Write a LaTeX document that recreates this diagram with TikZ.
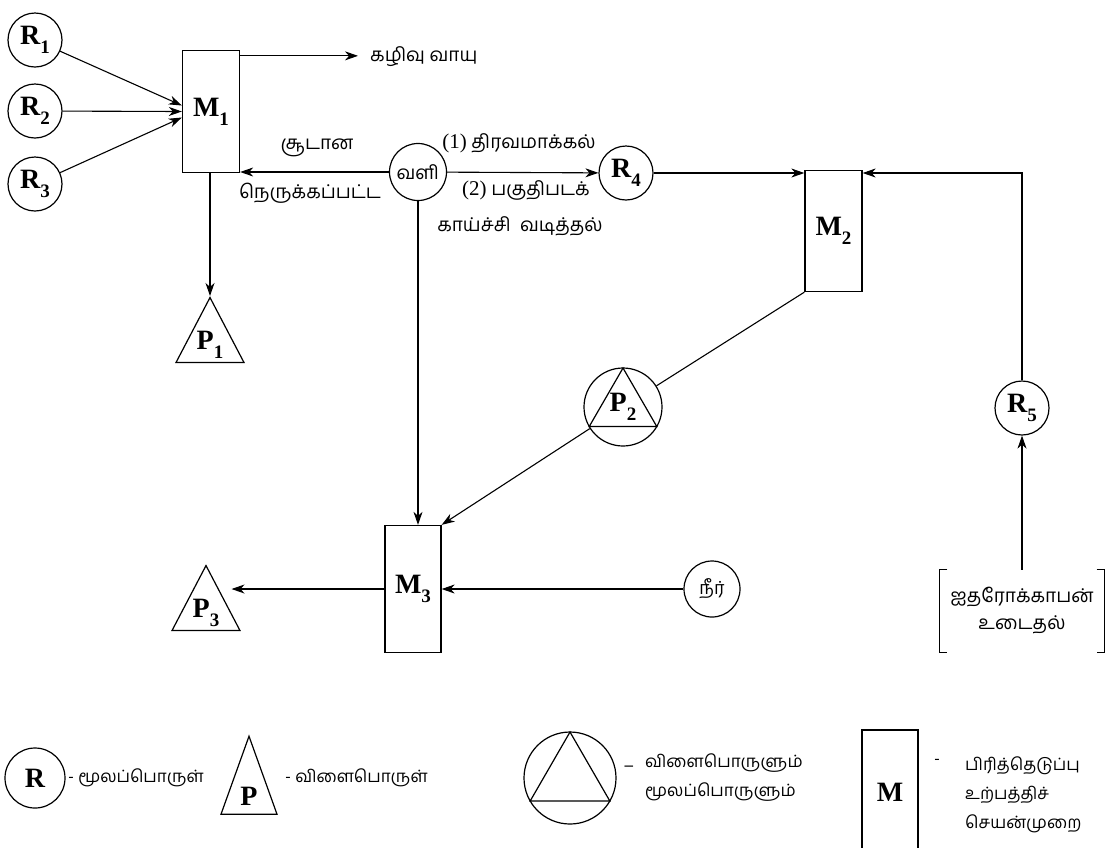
\documentclass[tikz,border=0pt]{standalone}
\usepackage{fontspec}
\setmainfont{Liberation Serif}
\newfontfamily\tamil[Script=Tamil]{Hind Madurai}
\usepackage{tikz}
\usetikzlibrary{arrows.meta,shapes.geometric,positioning,calc}
\newcommand{\pcsub}[2]{#1\raisebox{-0.32em}{\fontsize{19}{19}\selectfont #2}}
\tikzset{
  pcraw/.style={
    circle, draw=black, fill=white, line width=1.2pt,
    minimum size=54pt, inner sep=0pt, font=\fontsize{28}{28}\selectfont\bfseries
  },
  pcunit/.style={
    rectangle, draw=black, fill=white, line width=1.3pt,
    minimum width=57pt, minimum height=122pt, inner sep=0pt,
    font=\fontsize{28}{28}\selectfont\bfseries
  },
  pcprod/.style={
    isosceles triangle, isosceles triangle stretches, shape border rotate=90,
    draw=black, line width=1.2pt, minimum width=68pt, minimum height=65pt,
    inner sep=0pt, font=\fontsize{28}{28}\selectfont\bfseries
  },
  pcboth/.style={pcraw},
  pcinner/.style={regular polygon, regular polygon sides=3, draw=black,
    line width=1.2pt, inner sep=0pt},
  pcedge/.style={-{Stealth[length=13pt,width=9pt,inset=4pt]},line width=1.1pt},
  pcline/.style={line width=1.1pt},
  pctext/.style={font=\tamil\fontsize{19}{23}\selectfont,inner sep=0pt},
  pckey/.style={font=\tamil\fontsize{17}{21}\selectfont,inner sep=0pt}
}

\begin{document}
\begin{tikzpicture}[x=1pt,y=-1pt]
  \useasboundingbox (0,0) rectangle (1118,847);

  % First separation unit
  \node[pcraw] (R1) at (35,40) {\pcsub{R}{1}};
  \node[pcraw] (R2) at (35,111) {\pcsub{R}{2}};
  \node[pcraw] (R3) at (35,184) {\pcsub{R}{3}};
  \node[pcunit] (M1) at (211,111.5) {\pcsub{M}{1}};
  \draw[pcedge] (R1) -- ([yshift=6pt]M1.west);
  \draw[pcedge] (R2) -- (M1.west);
  \draw[pcedge] (R3) -- ([yshift=-6pt]M1.west);

  \node[pctext,anchor=west,inner xsep=12pt] (gas) at (358,57) {கழிவு வாயு};
  \coordinate (M1out) at ([yshift=-6pt]M1.north east);
  \draw[pcedge] (M1out) -- (M1out -| gas.west);

  \node[pcprod] (P1) at (210,345) {\pcsub{P}{1}};
  \draw[pcedge] (M1.south -| P1.apex) -- (P1.apex);

  % Air
  \node[pcraw,font=\tamil\fontsize{19}{19}\selectfont,minimum size=57pt] (vali) at (418,172) {வளி};
  \draw[pcedge] (vali) -- (vali -| M1.east);
  \node[pctext] at (317,148) {சூடான};
  \node[pctext] at (310,193) {நெருக்கப்பட்ட};

  \node[pcraw] (R4) at (626,173) {\pcsub{R}{4}};
  \draw[pcedge] (vali) -- (R4);
  \node[pctext] at (519,143) {{\rmfamily\fontsize{21}{23}\selectfont(1)} திரவமாக்கல்};
  \node[pctext] at (526,190) {{\rmfamily\fontsize{21}{23}\selectfont(2)} பகுதிபடக்};
  \node[pctext] at (520,226) {காய்ச்சி\ \ வடித்தல்};

  % Second separation unit
  \node[pcunit,minimum height=121pt] (M2) at (833.5,231) {\pcsub{M}{2}};
  \draw[pcedge] (R4) -- (R4 -| M2.west);

  \node[pcraw] (R5) at (1022,408) {\pcsub{R}{5}};
  \draw[pcedge] (R5) |- (R4 -| M2.east);

  \node[pctext,align=center,minimum width=165pt,minimum height=82pt] (HC) at (1022,611)
    {ஐதரோக்காபன்\\[4pt]உடைதல்};
  \draw[pcline] ([xshift=8pt]HC.north west) -- (HC.north west) -- (HC.south west) -- ([xshift=8pt]HC.south west);
  \draw[pcline] ([xshift=-8pt]HC.north east) -- (HC.north east) -- (HC.south east) -- ([xshift=-8pt]HC.south east);
  \draw[pcedge] (HC) -- (R5);

  \node[pcboth,minimum size=78pt] (P2) at (623,407) {};
  \node[pcinner,minimum size=78pt,font=\fontsize{28}{28}\selectfont\bfseries] (P2t) at (P2.center) {\pcsub{P}{2}};
  \draw[pcline] (M2.south west) -- (P2);

  % Third separation unit
  \node[pcunit,minimum width=56pt,minimum height=127pt] (M3) at (413,589) {\pcsub{M}{3}};
  \draw[pcedge] (vali) -- (vali |- M3.north);
  \draw[pcedge] (P2) -- (M3.north east);

  \node[pcprod] (P3) at (206,613) {\pcsub{P}{3}};
  \draw[pcedge] (M3) -- (M3 -| P3.east);

  \node[pcraw,font=\tamil\fontsize{18}{18}\selectfont,minimum size=56pt] (water) at (712,589) {நீர்};
  \draw[pcedge] (water) -- (M3);

  % Legend
  \node[pcraw,minimum size=60pt,font=\fontsize{28}{28}\selectfont\bfseries] (lgR) at (35,778) {R};
  \node[pckey,anchor=west] at (68,778) {- மூலப்பொருள்};
  \node[pcprod,minimum width=56pt,minimum height=78pt] (lgP) at (249,796) {P};
  \node[pckey,anchor=west] at (285,778) {- விளைபொருள்};
  \node[pcboth,minimum size=92pt] (lgB) at (570,778) {};
  \node[pcinner,minimum size=92pt] (lgBt) at (lgB.center) {};
  \node[pckey,anchor=west] at (624,766) {\_};
  \node[pckey,anchor=west,align=left] at (645,778) {விளைபொருளும்\\[8pt]மூலப்பொருளும்};
  \node[pcunit,minimum width=56pt,minimum height=124pt] (lgM) at (890,792) {M};
  \node[pckey] at (937,762) {-};
  \node[pckey,anchor=west,align=left] at (965,795) {பிரித்தெடுப்பு\\[8pt]உற்பத்திச்\\[8pt]செயன்முறை};
\end{tikzpicture}
\end{document}
